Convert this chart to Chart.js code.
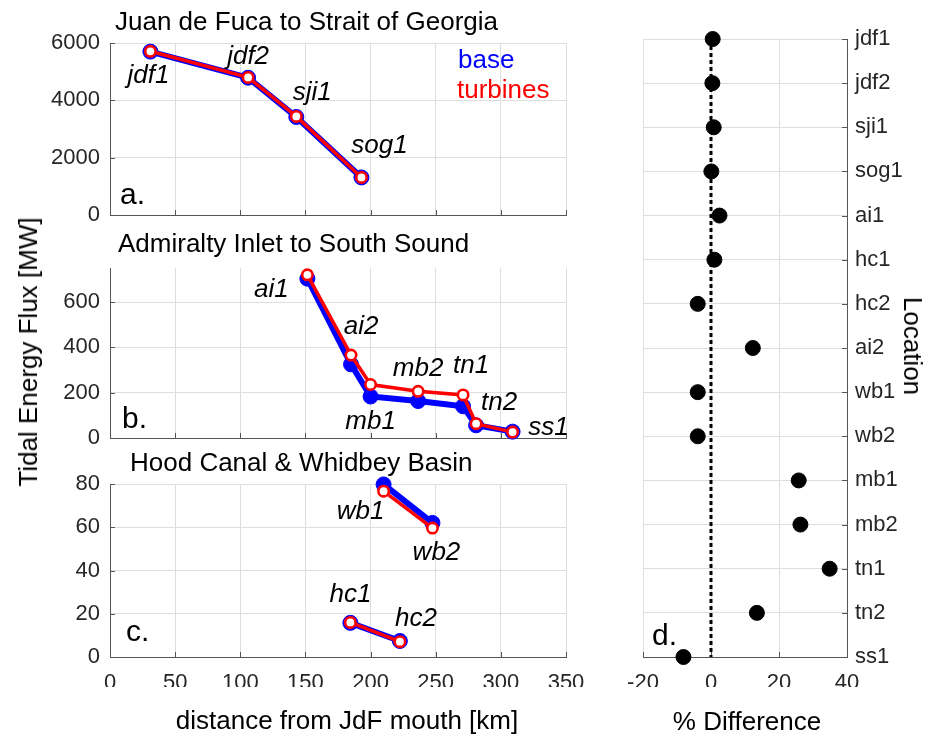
<!DOCTYPE html>
<html>
<head>
<meta charset="utf-8">
<script src="https://cdn.jsdelivr.net/npm/chart.js@4"></script>
<style>
  body { margin: 0; background: #fff; }
  #wrap { position: relative; width: 931px; height: 738px; overflow: hidden; font-family: "Liberation Sans", Arial, sans-serif; }
  canvas { position: absolute; left: 0; top: 0; }
  .t { position: absolute; white-space: nowrap; line-height: 1; color: #000; font-size: 26px; }
  .c { transform: translateX(-50%); }
  .lt { font-size: 30px; }
</style>
</head>
<body>
<div id="wrap">
  <canvas id="cA" width="931" height="738"></canvas>
  <canvas id="cB" width="931" height="738"></canvas>
  <canvas id="cC" width="931" height="738"></canvas>
  <canvas id="cD" width="931" height="738"></canvas>

  <div class="t" style="left:115px;top:8px">Juan de Fuca to Strait of Georgia</div>
  <div class="t" style="left:118px;top:230px">Admiralty Inlet to South Sound</div>
  <div class="t" style="left:130px;top:449px">Hood Canal &amp; Whidbey Basin</div>

  <div class="t" style="left:458px;top:46px;color:#0000ff">base</div>
  <div class="t" style="left:457px;top:76px;color:#ff0000">turbines</div>

  <div class="t lt" style="left:120px;top:179px">a.</div>
  <div class="t lt" style="left:122px;top:403px">b.</div>
  <div class="t lt" style="left:126px;top:616px">c.</div>
  <div class="t lt" style="left:652px;top:620px">d.</div>

  <div class="t c" style="left:347px;top:707px">distance from JdF mouth [km]</div>
  <div class="t c" style="left:747px;top:708px">% Difference</div>
  <div class="t" style="left:28px;top:352px;transform:translate(-50%,-50%) rotate(-90deg)">Tidal Energy Flux [MW]</div>
  <div class="t" style="left:913px;top:346px;transform:translate(-50%,-50%) rotate(90deg)">Location</div>
</div>

<script>
// distance ticks shared by the three left panels
const distTicks = [0, 50, 100, 150, 200, 250, 300, 350];

// a. Juan de Fuca to Strait of Georgia
const namesA = ['jdf1', 'jdf2', 'sji1', 'sog1'];
const distA = [31, 106, 143, 193];
const baseA = [5700, 4790, 3420, 1310];
const turbA = [5710, 4800, 3440, 1310];
const ticksA = [0, 2000, 4000, 6000];

// b. Admiralty Inlet to South Sound
const namesB = ['ai1', 'ai2', 'mb1', 'mb2', 'tn1', 'tn2', 'ss1'];
const distB = [151.5, 185, 200, 236.5, 271, 281, 309];
const baseB = [703, 325, 183, 163, 140, 56, 28];
const turbB = [720, 366, 236, 206, 190, 63, 26];
const ticksB = [0, 200, 400, 600];

// c. Hood Canal & Whidbey Basin
const namesWB = ['wb1', 'wb2'];
const distWB = [210, 247.5];
const baseWB = [79.8, 62.0];
const turbWB = [76.7, 59.6];
const namesHC = ['hc1', 'hc2'];
const distHC = [184.5, 222.5];
const baseHC = [15.8, 7.4];
const turbHC = [16.0, 7.1];
const ticksC = [0, 20, 40, 60, 80];

// d. percent difference by location
const locations = ['jdf1', 'jdf2', 'sji1', 'sog1', 'ai1', 'hc1', 'hc2', 'ai2', 'wb1', 'wb2', 'mb1', 'mb2', 'tn1', 'tn2', 'ss1'];
const pctDiff = [0.5, 0.4, 0.8, 0.1, 2.5, 1.0, -3.9, 12.3, -3.9, -3.9, 25.8, 26.3, 34.9, 13.5, -8.1];
const pctTicks = [-20, 0, 20, 40];

// label offsets from the base point, in px
const offA = [[-2, 31], [0, -14], [16, -17], [18, -24]];
const offB = [[-36, 18], [10, -30], [0, 32], [0, -25], [8, -33], [23, -15], [36, 3]];
const offWB = [[-23, 35], [4, 37]];
const offHC = [[0, -21], [16, -15]];

const BLUE = '#0000ff', RED = '#ff0000';
const GRID = '#dedede', AXIS = '#555', TICK = '#262626';
const FONT = '"Liberation Sans", Arial, sans-serif';

const pts = (xs, ys) => xs.map((x, i) => ({ x, y: ys[i] }));

function pair(xs, base, turb) {
  return [
    { data: pts(xs, base), showLine: true, borderColor: BLUE, borderWidth: 6,
      pointRadius: 7.5, pointBackgroundColor: BLUE, pointBorderColor: BLUE, pointBorderWidth: 1,
      order: 1, clip: false },
    { data: pts(xs, turb), showLine: true, borderColor: RED, borderWidth: 3.5,
      pointRadius: 5.2, pointBackgroundColor: '#fff', pointBorderColor: RED, pointBorderWidth: 2.6,
      order: 0, clip: false }
  ];
}

// station names, placed from the base points the scales give
function namesPlugin(items) {
  return {
    id: 'names',
    afterDatasetsDraw(chart) {
      const ctx = chart.ctx;
      ctx.save();
      ctx.font = 'italic 26px ' + FONT;
      ctx.fillStyle = '#000';
      ctx.textAlign = 'center';
      ctx.textBaseline = 'alphabetic';
      items.forEach(it => {
        const meta = chart.getDatasetMeta(it.ds);
        it.names.forEach((n, i) => {
          const p = meta.data[i];
          ctx.fillText(n, p.x + it.off[i][0], p.y + it.off[i][1]);
        });
      });
      ctx.restore();
    }
  };
}

// matlab style ticks pointing into the axes
const inTicks = {
  id: 'inTicks',
  beforeDatasetsDraw(chart) {
    const ctx = chart.ctx, a = chart.chartArea;
    ctx.save();
    ctx.strokeStyle = AXIS;
    ctx.lineWidth = 1;
    Object.values(chart.scales).forEach(s => {
      s.ticks.forEach(t => {
        const p = Math.round(s.getPixelForValue(t.value)) + 0.5;
        ctx.beginPath();
        if (s.isHorizontal()) { ctx.moveTo(p, a.bottom); ctx.lineTo(p, a.bottom - 5); }
        else if (s.position === 'left') { ctx.moveTo(a.left, p); ctx.lineTo(a.left + 5, p); }
        else { ctx.moveTo(a.right, p); ctx.lineTo(a.right - 5, p); }
        ctx.stroke();
      });
    });
    ctx.restore();
  }
};

function xDist(showLabels) {
  return {
    type: 'linear', min: 0, max: 350,
    afterBuildTicks: s => { s.ticks = distTicks.map(v => ({ value: v })); },
    afterFit: s => { s.height = showLabels ? 30 : 0; },
    grid: { color: GRID, drawTicks: false },
    border: { color: AXIS, width: 1 },
    ticks: { display: showLabels, color: TICK, font: { family: FONT, size: 22 }, padding: 13, maxRotation: 0, callback: v => v }
  };
}

function yFlux(max, vals) {
  return {
    type: 'linear', min: 0, max,
    afterBuildTicks: s => { s.ticks = vals.map(v => ({ value: v })); },
    afterFit: s => { s.width = 60; },
    grid: { color: GRID, drawTicks: false },
    border: { color: AXIS, width: 1 },
    ticks: { color: TICK, font: { family: FONT, size: 22 }, padding: 10, callback: v => v }
  };
}

function makeChart(id, padding, datasets, scales, items) {
  new Chart(document.getElementById(id), {
    type: 'scatter',
    data: { datasets },
    options: {
      responsive: false, animation: false, devicePixelRatio: 1,
      layout: { padding },
      scales,
      plugins: { legend: { display: false }, tooltip: { enabled: false } }
    },
    plugins: [inTicks, namesPlugin(items)]
  });
}

// a.
makeChart('cA', { left: 50, right: 365, top: 43, bottom: 523 },
  pair(distA, baseA, turbA),
  { x: xDist(false), y: yFlux(6000, ticksA) },
  [{ ds: 0, names: namesA, off: offA }]);

// b.
makeChart('cB', { left: 50, right: 365, top: 268, bottom: 300 },
  pair(distB, baseB, turbB),
  { x: xDist(false), y: yFlux(750, ticksB) },
  [{ ds: 0, names: namesB, off: offB }]);

// c.
makeChart('cC', { left: 50, right: 365, top: 484, bottom: 51 },
  pair(distWB, baseWB, turbWB).concat(pair(distHC, baseHC, turbHC)),
  { x: xDist(true), y: yFlux(80, ticksC) },
  [{ ds: 0, names: namesWB, off: offWB }, { ds: 2, names: namesHC, off: offHC }]);

// d.
makeChart('cD', { left: 643, right: 0, top: 39, bottom: 51 },
  [
    { data: pctDiff.map((v, i) => ({ x: v, y: i })), pointRadius: 7.5,
      pointBackgroundColor: '#000', pointBorderColor: '#000', order: 0, clip: false },
    { data: [{ x: 0, y: 0 }, { x: 0, y: locations.length - 1 }], showLine: true,
      borderColor: '#000', borderWidth: 3, borderDash: [4, 3], pointRadius: 0, order: 1, clip: false }
  ],
  {
    x: {
      type: 'linear', min: -20, max: 40,
      afterBuildTicks: s => { s.ticks = pctTicks.map(v => ({ value: v })); },
      afterFit: s => { s.height = 30; },
      grid: { color: GRID, drawTicks: false },
      border: { color: AXIS, width: 1 },
      ticks: { color: TICK, font: { family: FONT, size: 22 }, padding: 13, maxRotation: 0, callback: v => v }
    },
    y: {
      type: 'linear', position: 'right', min: 0, max: locations.length - 1, reverse: true,
      afterBuildTicks: s => { s.ticks = locations.map((n, i) => ({ value: i })); },
      afterFit: s => { s.width = 84; },
      grid: { color: GRID, drawTicks: false },
      border: { color: AXIS, width: 1 },
      ticks: { color: TICK, font: { family: FONT, size: 22 }, padding: 8, callback: v => locations[v] }
    }
  },
  []);
</script>
</body>
</html>
